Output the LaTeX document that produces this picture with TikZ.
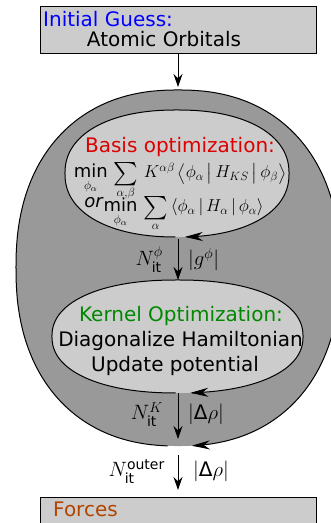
\documentclass[tikz,border=0pt]{standalone}
\usepackage{amsmath}
\usepackage{exscale}
\usepackage{fontspec}
\setmainfont{DejaVu Sans}
\usetikzlibrary{arrows.meta}

\definecolor{lightgrey}{HTML}{CCCCCC}
\definecolor{midgrey}{HTML}{999999}
\definecolor{guessblue}{RGB}{0,0,255}
\definecolor{basisred}{RGB}{221,0,0}
\definecolor{kernelgreen}{RGB}{0,136,0}
\definecolor{forcesbrown}{RGB}{178,68,0}

\newcommand{\bigsum}{\mathop{\vcenter{\hbox{\scalebox{1.35}{$\sum$}}}}}

\begin{document}
\begin{tikzpicture}[x=1pt, y=1pt, font=\fontsize{20}{24}\selectfont,
    declare function={se(\u,\p)=sign(\u)*(abs(\u)+0.00001)^\p;},
    box/.style={draw, fill=lightgrey, line width=1pt, minimum width=276pt, inner sep=0pt},
    txt/.style={inner sep=0pt},
    formula/.style={inner sep=0pt, font=\fontsize{18}{21}\selectfont},
    arr/.style={-{Stealth[length=13pt, width=9pt]}, line width=1pt},
    looparr/.style={-{Stealth[length=18pt, width=9pt]}, line width=1pt}]
  \useasboundingbox (0,0) rectangle (331,523);
  % outer loop
  \fill[midgrey] plot[domain=0.25:360.25, samples=721, variable=\t]
    ({178+162*se(cos(\t),0.88)}, {255+178*se(sin(\t),0.88)}) -- cycle;
  \draw[looparr] plot[domain=267.5:-86.5, samples=700, variable=\t]
    ({178+162*se(cos(\t),0.88)}, {255+178*se(sin(\t),0.88)});
  % basis loop
  \fill[lightgrey] plot[domain=0.25:360.25, samples=721, variable=\t]
    ({177+112*se(cos(\t),0.9)}, {349.5+63.5*se(sin(\t),0.9)}) -- cycle;
  \draw[looparr] plot[domain=269.5:-87, samples=500, variable=\t]
    ({177+112*se(cos(\t),0.9)}, {349.5+63.5*se(sin(\t),0.9)});
  % kernel loop
  \fill[lightgrey] plot[domain=0.25:360.25, samples=721, variable=\t]
    ({177.5+125.5*se(cos(\t),0.9)}, {186.5+56.5*se(sin(\t),0.9)}) -- cycle;
  \draw[looparr] plot[domain=269.5:-85.5, samples=500, variable=\t]
    ({177.5+125.5*se(cos(\t),0.9)}, {186.5+56.5*se(sin(\t),0.9)});

  % boxes
  \node[box, minimum height=47pt] (guess) at (178,492.5) {};
  \node[box, minimum height=34pt] (forces) at (178,8) {};

  \coordinate (outtop) at (178,436);
  \coordinate (basisbot) at (178,284);
  \coordinate (kerneltop) at (178,243);
  \coordinate (kernelbot) at (178,130);
  \coordinate (outbot) at (178,84);
  \coordinate (outexit) at (178,68);
  \coordinate (forcestop) at (178,33);

  \draw[arr] (guess.south) -- (outtop);
  \draw[arr] (basisbot) -- (kerneltop);
  \draw[arr] (kernelbot) -- (outbot);
  \draw[arr] (outexit) -- (forcestop);

  % texts
  \node[txt, anchor=base west, text=guessblue] (guesstitle) at (43,496) {Initial Guess:};
  \node[txt, anchor=base] (guessorbit) at (164,476) {Atomic Orbitals};
  \node[txt, anchor=base, text=basisred] (basistitle) at (180,370) {Basis optimization:};
  \node[formula, anchor=base] (basisone) at (180,345)
    {$\mathop{\text{min}}\limits_{\phi_\alpha}\,\bigsum\limits_{\alpha,\beta}\,K^{\alpha\beta}\,\big\langle\phi_\alpha\,\big|\,H_{KS}\,\big|\,\phi_\beta\big\rangle$};
  \node[formula, anchor=base] (basistwo) at (174,311)
    {\raisebox{4pt}{\textit{or}}$\mathop{\text{min}}\limits_{\phi_\alpha}\,\bigsum\limits_{\alpha}\,\langle\phi_\alpha\,|\,H_\alpha\,|\,\phi_\alpha\rangle$};
  \node[txt, anchor=base, text=kernelgreen] (kerneltitle) at (181,201) {Kernel Optimization:};
  \node[txt, anchor=base] (kernelone) at (180.5,176) {Diagonalize Hamiltonian};
  \node[txt, anchor=base] (kerneltwo) at (175,151) {Update potential};
  \node[txt, anchor=base west, text=forcesbrown] (forcestitle) at (53,6) {Forces};

  % loop labels
  \node[txt, anchor=base east] (nphi) at (163,257) {$N_{\text{it}}^{\phi}$};
  \node[txt, anchor=base west] (gphi) at (188,257) {$|g^{\phi}|$};
  \node[txt, anchor=base east] (nkern) at (163,103) {$N_{\text{it}}^{K}$};
  \node[txt, anchor=base west] (drhok) at (188,103) {$|\text{Δ}\rho|$};
  \node[txt, anchor=base east] (nouter) at (165,46) {$N_{\text{it}}^{\text{outer}}$};
  \node[txt, anchor=base west] (drhoout) at (193,46) {$|\text{Δ}\rho|$};
\end{tikzpicture}
\end{document}
